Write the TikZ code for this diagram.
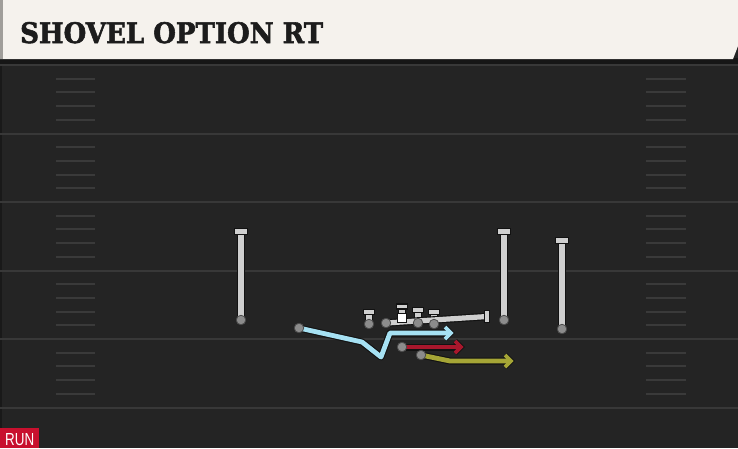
\documentclass[tikz,border=0pt]{standalone}
\usepackage{fontspec}
\setmainfont{DejaVu Serif}
\newfontfamily\titlefont{DejaVu Serif}[BoldFeatures={FakeBold=2}]
\newfontfamily\labelfont{Liberation Sans}
\definecolor{fieldbg}{HTML}{242424}
\definecolor{cream}{HTML}{F5F2ED}
\definecolor{headeredge}{HTML}{A09E9A}
\definecolor{headershadow}{HTML}{161616}
\definecolor{yardc}{HTML}{383838}
\definecolor{hashc}{HTML}{3A3A3A}
\definecolor{routegrey}{HTML}{CFCFCF}
\definecolor{outlinec}{HTML}{121212}
\definecolor{dotc}{HTML}{8C8C8C}
\definecolor{blueroute}{HTML}{A6E1F3}
\definecolor{redroute}{HTML}{A8172C}
\definecolor{oliveroute}{HTML}{A5A536}
\definecolor{runred}{HTML}{C8102E}
\definecolor{titlec}{HTML}{1C1C1C}
\tikzset{
  yardline/.style={draw=yardc, line width=2pt},
  hashmark/.style={draw=hashc, line width=2pt},
  stemout/.style={draw=outlinec, line width=7.5pt},
  stemin/.style={draw=routegrey, line width=5.2pt},
  tbar/.style={fill=routegrey, draw=outlinec, line width=1.2pt},
  dot/.style={circle, minimum size=9.5pt, inner sep=0pt, fill=dotc, draw=black!70, line width=0.8pt},
  centerbox/.style={rectangle, minimum width=8.5pt, minimum height=8.5pt, inner sep=0pt, fill=white, draw=outlinec, line width=0.8pt},
  routeout/.style={draw=outlinec, line width=7pt, line join=round},
  routein/.style={line width=4.8pt, line join=round},
  chevout/.style={draw=outlinec, line width=5.6pt, line join=miter},
  chevin/.style={line width=3.6pt, line join=miter},
}
\begin{document}
\begin{tikzpicture}[x=1pt,y=-1pt]
\useasboundingbox (0,0) rectangle (738,448);
% field
\fill[fieldbg] (0,0) rectangle (738,448);
\fill[black!30!fieldbg] (0,60) rectangle (2,448);
% header
\fill[headershadow] (0,58) rectangle (738,64);
\fill[cream] (0,0) -- (738,0) -- (738,46) -- (733,59) -- (0,59) -- cycle;
\fill[headeredge] (0,0) rectangle (3,59);
\node[anchor=base west, inner sep=0pt, text=titlec] (title) at (20,43)
  {\resizebox{303pt}{21pt}{\titlefont\bfseries SHOVEL OPTION RT}};
% yard lines
\foreach \y in {65,133.5,202,270.5,339,407.5}
  \draw[yardline] (0,\y) -- (738,\y);
% hash marks
\foreach \y in {65,133.5,202,270.5,339}
  \foreach \k in {1,...,4} {
    \draw[hashmark] (56,{\y+\k*13.7}) -- (95,{\y+\k*13.7});
    \draw[hashmark] (646,{\y+\k*13.7}) -- (686,{\y+\k*13.7});
  }
% player positions
\coordinate (wrL) at (241,320);  \coordinate (wrLt) at (241,231.5);
\coordinate (wrR) at (504,320);  \coordinate (wrRt) at (504,231.5);
\coordinate (teR) at (562,329);  \coordinate (teRt) at (562,240.5);
\coordinate (lt)  at (369,324);  \coordinate (ltt) at (369,312);
\coordinate (lg)  at (386,323);  \coordinate (lgt) at (487,316.5);
\coordinate (c)   at (402,318);  \coordinate (ct)  at (402,306.5);
\coordinate (rg)  at (418,323);  \coordinate (rgt) at (418,310);
\coordinate (rtk) at (434,324);  \coordinate (rtt) at (434,312);
\coordinate (qb)  at (299,328);
\coordinate (b1)  at (362,342);
\coordinate (b2)  at (381,357);
\coordinate (b3)  at (390,333);
\coordinate (bEnd) at (451,333);
\coordinate (rb)  at (402,347);
\coordinate (rEnd) at (461,347);
\coordinate (ol)  at (421,355);
\coordinate (o1)  at (450,361);
\coordinate (oEnd) at (511,361);
% stems
\foreach \p/\t in {wrL/wrLt, wrR/wrRt, teR/teRt, lt/ltt, c/ct, rg/rgt, rtk/rtt} {
  \draw[stemout] (\p) -- (\t);
  \draw[stemin] (\p) -- (\t);
}
\foreach \t in {wrLt, wrRt, teRt}
  \filldraw[tbar] ([shift={(-6.5,-2.8)}]\t) rectangle ([shift={(6.5,2.8)}]\t);
\foreach \t in {ltt, ct, rgt, rtt}
  \filldraw[tbar] ([shift={(-5.5,-2.5)}]\t) rectangle ([shift={(5.5,2.5)}]\t);
% pulling guard
\draw[stemout] (lg) -- (lgt);
\draw[stemin] (lg) -- (lgt);
\filldraw[tbar] ([shift={(-2.5,-6)}]lgt) rectangle ([shift={(2.5,6)}]lgt);
% routes (line + open chevron head)
\draw[routeout] (qb) -- (b1) -- (b2) -- (b3) -- ([xshift=-1]bEnd);
\draw[chevout] ([shift={(-6,-6)}]bEnd) -- (bEnd) -- ([shift={(-6,6)}]bEnd);
\draw[routein, draw=blueroute] (qb) -- (b1) -- (b2) -- (b3) -- ([xshift=-1]bEnd);
\draw[chevin, draw=blueroute] ([shift={(-6,-6)}]bEnd) -- (bEnd) -- ([shift={(-6,6)}]bEnd);
\draw[routeout] (rb) -- ([xshift=-1]rEnd);
\draw[chevout] ([shift={(-6,-6)}]rEnd) -- (rEnd) -- ([shift={(-6,6)}]rEnd);
\draw[routein, draw=redroute] (rb) -- ([xshift=-1]rEnd);
\draw[chevin, draw=redroute] ([shift={(-6,-6)}]rEnd) -- (rEnd) -- ([shift={(-6,6)}]rEnd);
\draw[routeout] (ol) -- (o1) -- ([xshift=-1]oEnd);
\draw[chevout] ([shift={(-6,-6)}]oEnd) -- (oEnd) -- ([shift={(-6,6)}]oEnd);
\draw[routein, draw=oliveroute] (ol) -- (o1) -- ([xshift=-1]oEnd);
\draw[chevin, draw=oliveroute] ([shift={(-6,-6)}]oEnd) -- (oEnd) -- ([shift={(-6,6)}]oEnd);
% dots
\foreach \p in {wrL, wrR, teR, lt, lg, rg, rtk, qb, rb, ol}
  \node[dot] (\p dot) at (\p) {};
\node[centerbox] (cbox) at (c) {};
% run label
\fill[runred] (0,428) rectangle (39,448);
\node[anchor=base west, inner sep=0pt, text=white] (run) at (5,445)
  {\resizebox{29pt}{12pt}{\labelfont RUN}};
\end{tikzpicture}
\end{document}
